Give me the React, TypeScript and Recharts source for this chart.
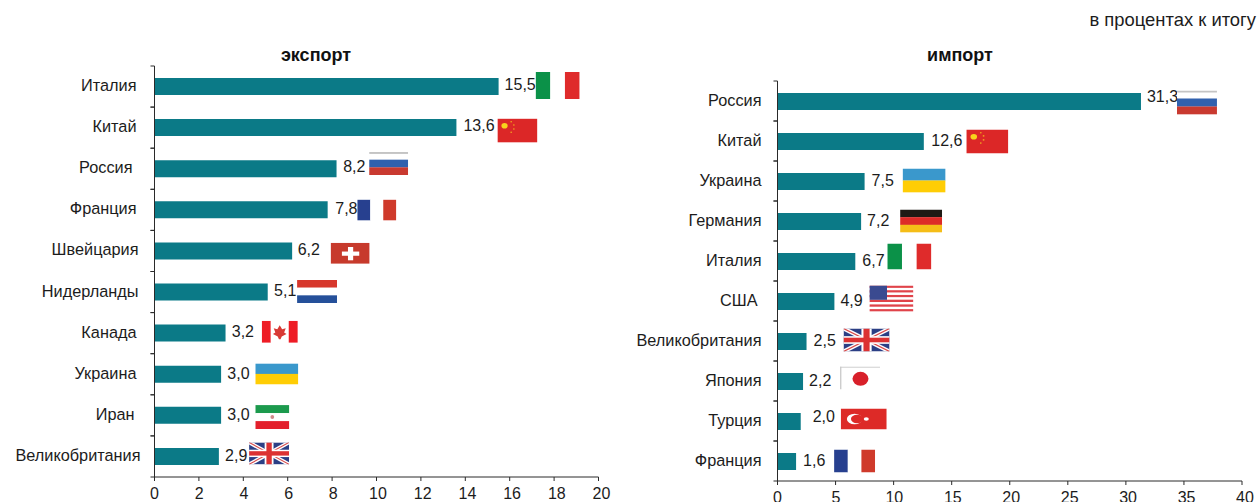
import React from "react";
import { BarChart, Bar, XAxis, YAxis, LabelList } from "recharts";

// ---- data ----
const exportCountries = ["Италия", "Китай", "Россия", "Франция", "Швейцария", "Нидерланды", "Канада", "Украина", "Иран", "Великобритания"];
const exportValues = [15.5, 13.6, 8.2, 7.8, 6.2, 5.1, 3.2, 3.0, 3.0, 2.9];
const exportFlags = ["it", "cn", "ru", "fr", "ch", "nl", "ca", "ua", "ir", "gb"];
const importCountries = ["Россия", "Китай", "Украина", "Германия", "Италия", "США", "Великобритания", "Япония", "Турция", "Франция"];
const importValues = [31.3, 12.6, 7.5, 7.2, 6.7, 4.9, 2.5, 2.2, 2.0, 1.6];
const importFlags = ["ru", "cn", "ua", "de", "it", "us", "gb", "jp", "tr", "fr"];
const exportTicks = [0, 2, 4, 6, 8, 10, 12, 14, 16, 18, 20];
const importTicks = [0, 5, 10, 15, 20, 25, 30, 35, 40];

// ---- layout of the annotations beside each bar ----
const exportLayout = {
  labelShift: [0, 0, -4, 0, 2, 2, 0, 0, -2, 4],
  labelRise: -1.5,
  valueGap: [6, 7, 6.6, 7.6, 5.5, 6.4, 6.2, 6.2, 6.2, 6.2],
  valueRise: [-2, -2, -1.8, -1.6, -1.5, -1.5, -1.3, -1.2, -1.2, -1],
  flagGap: [37, 41, 32.6, 29.6, 38.5, 29.4, 36.2, 34.2, 34.2, 30.2],
  flagRise: [-1, 3, -5.2, 0.3, 2.4, -0.5, -1.3, -0.3, 1.8, -3],
  flagW: [44, 40, 39, 39, 39, 40, 36, 43, 34, 40],
  flagH: [27, 24, 23, 21, 21, 23, 22, 21, 24, 22],
};
const importLayout = {
  labelShift: [2, 2, 2, 2, 2, -2, 2, 2, 2, 2],
  labelRise: -1,
  valueGap: [6, 7.5, 7, 6, 7, 6, 7, 6, 12, 7],
  valueRise: [-5, -1, -1, -1, -1, -1, -1, -1, -5, -1],
  flagGap: [36, 42.5, 38, 39, 32, 35, 37, 37, 40, 38],
  flagRise: [1, 0, -1, -0.5, -5, -3, -1.5, -3.5, -2.5, -0.5],
  flagW: [40, 42, 43, 42, 44, 44, 46, 40, 46, 41],
  flagH: [24, 24, 24, 23, 26, 26, 23, 23, 21, 23],
};

const FONT = "'Liberation Sans', Arial, sans-serif";
const TEAL = "#0b7a87";
const INK = "#1c1c1c";
const AXIS = "#2a2a2a";

const stripesH = (colors: string[]) =>
  colors.map((c, i) => <rect key={i} x={0} y={(i * 60) / colors.length} width={90} height={60 / colors.length + 0.3} fill={c} />);
const stripesV = (colors: string[]) =>
  colors.map((c, i) => <rect key={i} x={(i * 90) / colors.length} y={0} width={90 / colors.length + 0.3} height={60} fill={c} />);

function flagArt(code: string) {
  switch (code) {
    case "it":
      return stripesV(["#0b9148", "#ffffff", "#df2b2b"]);
    case "fr":
      return stripesV(["#27408f", "#ffffff", "#cf3a2b"]);
    case "ru":
      return (
        <>
          {stripesH(["#ffffff", "#3161ae", "#c93a30"])}
          <rect x={0} y={0} width={90} height={5} fill="#c4c4c4" />
        </>
      );
    case "nl":
      return stripesH(["#d7372c", "#ffffff", "#25509a"]);
    case "de":
      return stripesH(["#1e1a14", "#dd2a27", "#f5bd17"]);
    case "ua":
      return stripesH(["#3a98cc", "#ffcd05"]);
    case "cn":
      return (
        <>
          <rect width={90} height={60} fill="#dc2727" />
          <circle cx={16} cy={18} r={7} fill="#f8d21c" />
          <circle cx={31} cy={8} r={2} fill="#f0a020" />
          <circle cx={37} cy={16} r={2} fill="#f0a020" />
          <circle cx={37} cy={26} r={2} fill="#f0a020" />
          <circle cx={31} cy={34} r={2} fill="#f0a020" />
        </>
      );
    case "ch":
      return (
        <>
          <rect width={90} height={60} fill="#c73a2c" />
          <rect x={26} y={25} width={40} height={12} fill="#ffffff" />
          <rect x={40} y={12} width={12} height={38} fill="#ffffff" />
        </>
      );
    case "ca":
      return (
        <>
          {stripesV(["#ee1c25", "#ffffff", "#ffffff", "#ee1c25"])}
          <polygon points="45,12 51,23 60,20 56,32 62,36 50,43 47,50 43,50 40,43 28,36 34,32 30,20 39,23" fill="#d83a35" />
        </>
      );
    case "ir":
      return (
        <>
          {stripesH(["#1c9a4d", "#ffffff", "#e3202c"])}
          <circle cx={45} cy={30} r={5} fill="#d08a8a" />
        </>
      );
    case "gb":
      return (
        <>
          <rect width={90} height={60} fill="#2b3f85" />
          <line x1={0} y1={0} x2={90} y2={60} stroke="#ffffff" strokeWidth={10} />
          <line x1={90} y1={0} x2={0} y2={60} stroke="#ffffff" strokeWidth={10} />
          <line x1={0} y1={0} x2={90} y2={60} stroke="#d84a4a" strokeWidth={3} />
          <line x1={90} y1={0} x2={0} y2={60} stroke="#d84a4a" strokeWidth={3} />
          <rect x={35} y={0} width={20} height={60} fill="#ffffff" />
          <rect x={0} y={20} width={90} height={20} fill="#ffffff" />
          <rect x={39} y={0} width={12} height={60} fill="#dc3232" />
          <rect x={0} y={24} width={90} height={12} fill="#dc3232" />
        </>
      );
    case "us":
      return (
        <>
          {stripesH(["#e0434a", "#ffffff", "#e0434a", "#ffffff", "#e0434a", "#ffffff", "#e0434a", "#ffffff", "#e0434a", "#ffffff", "#e0434a"])}
          <rect x={0} y={0} width={36} height={33} fill="#3a4a90" />
        </>
      );
    case "jp":
      return (
        <>
          <rect width={90} height={60} fill="#ffffff" />
          <rect width={90} height={3} fill="#c9c9c9" />
          <rect width={3} height={60} fill="#c9c9c9" />
          <circle cx={46} cy={32} r={18} fill="#d8202a" />
        </>
      );
    case "tr":
      return (
        <>
          <rect width={90} height={60} fill="#dd2a27" />
          <circle cx={27} cy={30} r={15} fill="#ffffff" />
          <circle cx={32} cy={30} r={12} fill="#dd2a27" />
          <circle cx={50} cy={30} r={5} fill="#ffffff" />
        </>
      );
    default:
      return null;
  }
}

function Flag({ x, y, width, height, code }: { x: number; y: number; width: number; height: number; code: string }) {
  return (
    <svg x={x} y={y} width={width} height={height} viewBox="0 0 90 60" preserveAspectRatio="none">
      {flagArt(code)}
    </svg>
  );
}

type Layout = typeof exportLayout;

function Panel(props: {
  left: number; width: number; top: number; axisBottom: number; axisWidth: number; right: number; barSize: number;
  countries: string[]; values: number[]; flags: string[]; ticks: number[]; max: number; layout: Layout; title: string; titleCenter: number;
}) {
  const { left, width, top, axisBottom, axisWidth, right, barSize, countries, values, flags, ticks, max, layout, title, titleCenter } = props;
  const rows = countries.map((name, i) => ({ name, value: values[i], flag: flags[i] }));
  const band = (axisBottom - top) / countries.length;
  // category axis: name at the band centre, tick marks on the band boundaries
  const labelTick = (p: any) => (
    <g>
      <line x1={axisWidth - 4} x2={axisWidth} y1={p.y - band / 2} y2={p.y - band / 2} stroke={AXIS} />
      <line x1={axisWidth - 4} x2={axisWidth} y1={p.y + band / 2} y2={p.y + band / 2} stroke={AXIS} />
      <text x={axisWidth - 18 + layout.labelShift[p.index]} y={p.y + layout.labelRise} textAnchor="end" dominantBaseline="central" fontFamily={FONT} fontSize={16.3} fill={INK}>
        {p.payload.value}
      </text>
    </g>
  );
  const valueTick = (p: any) => (
    <text x={p.x + (3 * p.payload.value) / max} y={p.y + 9} textAnchor="middle" dominantBaseline="central" fontFamily={FONT} fontSize={16} fill={INK}>
      {p.payload.value}
    </text>
  );
  const annotate = (p: any) => {
    const i = p.index;
    const end = p.x + p.width;
    const mid = p.y + p.height / 2;
    const w = layout.flagW[i];
    const h = layout.flagH[i];
    return (
      <g key={i}>
        <text x={end + layout.valueGap[i]} y={mid + layout.valueRise[i]} dominantBaseline="central" fontFamily={FONT} fontSize={16} fill={INK}>
          {values[i].toFixed(1).replace(".", ",")}
        </text>
        <Flag x={end + layout.flagGap[i]} y={mid + layout.flagRise[i] - h / 2} width={w} height={h} code={flags[i]} />
      </g>
    );
  };
  return (
    <div style={{ position: "absolute", left, top: 0, width, height: 502 }}>
      <div style={{ position: "absolute", left: titleCenter - left - 60, top: 45, width: 120, textAlign: "center", fontFamily: FONT, fontSize: 18, fontWeight: 700, lineHeight: "20px", color: "#111" }}>
        {title}
      </div>
      <BarChart
        width={width}
        height={502}
        layout="vertical"
        data={rows}
        barCategoryGap={0}
        margin={{ top, right, bottom: 502 - axisBottom - 30, left: 0 }}
        style={{ position: "absolute", left: 0, top: 0 }}
      >
        <XAxis
          type="number"
          domain={[0, max]}
          ticks={ticks}
          interval={0}
          height={30}
          tickSize={4}
          tickMargin={3}
          stroke={AXIS}
          tick={valueTick}
        />
        <YAxis type="category" dataKey="name" width={axisWidth} tickLine={false} stroke={AXIS} tick={labelTick} interval={0} />
        <Bar dataKey="value" fill={TEAL} barSize={barSize} isAnimationActive={false}>
          <LabelList dataKey="value" content={annotate} />
        </Bar>
      </BarChart>
    </div>
  );
}

export default function App() {
  return (
    <div style={{ position: "absolute", left: 0, top: 0, width: 1259, height: 502, overflow: "hidden", background: "#fff" }}>
      <div style={{ position: "absolute", right: 3, top: 11, fontFamily: FONT, fontSize: 18.4, lineHeight: "18px", color: INK, whiteSpace: "nowrap" }}>
        в процентах к итогу
      </div>
      <Panel left={0} width={620} top={66} axisBottom={477} axisWidth={154.5} right={21.5} barSize={17}
        countries={exportCountries} values={exportValues} flags={exportFlags} ticks={exportTicks} max={20} layout={exportLayout} title="экспорт" titleCenter={316} />
      <Panel left={620} width={639} top={81} axisBottom={481} axisWidth={157.5} right={17} barSize={17}
        countries={importCountries} values={importValues} flags={importFlags} ticks={importTicks} max={40} layout={importLayout} title="импорт" titleCenter={960} />
    </div>
  );
}
